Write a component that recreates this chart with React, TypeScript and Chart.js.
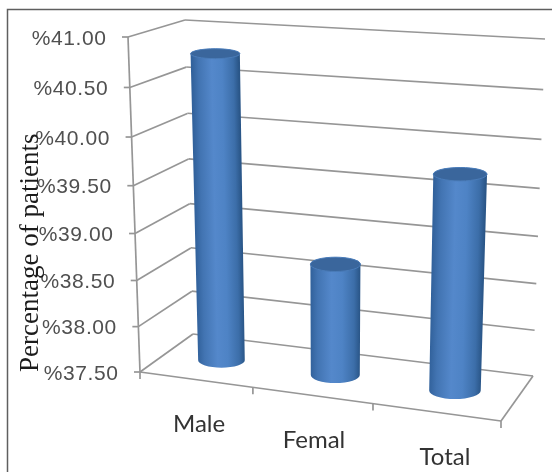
import { useEffect, useRef } from "react";
import { Chart, registerables } from "chart.js";

Chart.register(...registerables);

const categories = ["Male", "Femal", "Total"];
const patientShare = [40.78, 38.7, 39.75];
const axisMin = 37.5;
const axisMax = 41;
const axisStep = 0.5;
const axisTitle = "Percentage of patients";

type Pt = [number, number];

// Projects a unit square onto a quadrilateral, giving the walls their perspective.
function quadMap(p00: Pt, p10: Pt, p11: Pt, p01: Pt) {
  const [x0, y0] = p00, [x1, y1] = p10, [x2, y2] = p11, [x3, y3] = p01;
  const dx1 = x1 - x2, dx2 = x3 - x2, sx = x0 - x1 + x2 - x3;
  const dy1 = y1 - y2, dy2 = y3 - y2, sy = y0 - y1 + y2 - y3;
  const det = dx1 * dy2 - dx2 * dy1;
  const g = (sx * dy2 - dx2 * sy) / det;
  const h = (dx1 * sy - sx * dy1) / det;
  const a = x1 - x0 + g * x1, b = x3 - x0 + h * x3;
  const d = y1 - y0 + g * y1, e = y3 - y0 + h * y3;
  return (u: number, v: number): Pt => {
    const w = g * u + h * v + 1;
    return [(a * u + b * v + x0) / w, (d * u + e * v + y0) / w];
  };
}

const mix = (p: Pt, q: Pt, t: number): Pt => [p[0] + (q[0] - p[0]) * t, p[1] + (q[1] - p[1]) * t];

// Corners of the 3D box: front/back, left/right, bottom/top.
const FLB: Pt = [140, 372];
const FRB: Pt = [501, 421];
const FLT: Pt = [128, 37];
const FRT: Pt = [514, 61];
const BLB: Pt = [193, 334];
const BRB: Pt = [533, 376];
const BLT: Pt = [185, 20];
const BRT: Pt = [545, 39];

const backWall = quadMap(BLB, BRB, BRT, BLT);
const sideWall = quadMap(FLB, BLB, BLT, FLT);
const floor = quadMap(FLB, FRB, BRB, BLB);
const BAR_DEPTH = 0.5;
const barPlane = quadMap(
  mix(FLB, BLB, BAR_DEPTH),
  mix(FRB, BRB, BAR_DEPTH),
  mix(FRT, BRT, BAR_DEPTH),
  mix(FLT, BLT, BAR_DEPTH),
);

// Horizontal offset of each category label from its point on the floor edge.
const LABEL_SHIFT = [3.5, 2, 9];

function segment(ctx: CanvasRenderingContext2D, p: Pt, q: Pt) {
  ctx.beginPath();
  ctx.moveTo(p[0], p[1]);
  ctx.lineTo(q[0], q[1]);
  ctx.stroke();
}

const perspectiveBox = {
  id: "perspectiveBox",
  beforeDatasetsDraw(chart: any) {
    const { ctx, scales } = chart;
    const yScale = scales.y;
    const area = chart.chartArea;
    ctx.save();

    // Page frame
    ctx.strokeStyle = "#5f5f5f";
    ctx.lineWidth = 1.5;
    ctx.beginPath();
    ctx.moveTo(7.5, 472);
    ctx.lineTo(7.5, 9.5);
    ctx.lineTo(552, 9.5);
    ctx.stroke();

    ctx.strokeStyle = "#969696";
    ctx.lineWidth = 1.7;

    // Value gridlines across the side and back walls, with their tick labels
    ctx.font = "21px 'Liberation Sans', Arial, sans-serif";
    ctx.letterSpacing = "0.6px";
    ctx.textAlign = "right";
    ctx.textBaseline = "middle";
    ctx.fillStyle = "#505050";
    for (const tick of yScale.ticks) {
      const t = (area.bottom - yScale.getPixelForValue(tick.value)) / (area.bottom - area.top);
      const front = sideWall(0, t);
      segment(ctx, [front[0] - 6, front[1]], front);
      segment(ctx, front, sideWall(1, t));
      segment(ctx, backWall(0, t), backWall(1, t));
      ctx.fillText(tick.label, front[0] - 21.5, front[1] + 2);
    }
    ctx.letterSpacing = "0px";

    // Front vertical axis and floor edges
    segment(ctx, FLT, FLB);
    segment(ctx, FLB, FRB);
    segment(ctx, FRB, BRB);

    // Category ticks along the front floor edge
    const nCat = categories.length;
    for (let i = 0; i <= nCat; i++) {
      const p = floor(i / nCat, 0);
      segment(ctx, p, [p[0], p[1] + 7]);
    }

    // Axis title
    ctx.save();
    ctx.translate(38, 372);
    ctx.rotate(-Math.PI / 2);
    ctx.font = "27px 'Liberation Serif', 'Times New Roman', serif";
    ctx.textAlign = "left";
    ctx.textBaseline = "alphabetic";
    ctx.fillStyle = "#1c1c1c";
    ctx.fillText(axisTitle, 0, 0);
    ctx.restore();

    ctx.restore();
  },
  afterDatasetsDraw(chart: any) {
    const { ctx, scales } = chart;
    const area = chart.chartArea;
    const w = area.right - area.left;
    const h = area.bottom - area.top;
    const bars = chart.getDatasetMeta(0).data;

    bars.forEach((bar: any) => {
      const u = (bar.x - area.left) / w;
      const halfU = bar.width / 2 / w;
      const t = (area.bottom - bar.y) / h;
      const baseL = barPlane(u - halfU, 0);
      const baseR = barPlane(u + halfU, 0);
      const topL = barPlane(u - halfU, t);
      const topR = barPlane(u + halfU, t);
      const baseC = mix(baseL, baseR, 0.5);
      const topC = mix(topL, topR, 0.5);
      const baseHW = (baseR[0] - baseL[0]) / 2;
      const topHW = (topR[0] - topL[0]) / 2;
      const baseRY = baseHW * (0.18 + 0.0004 * baseC[1]);
      const topRY = topHW * (0.18 + 0.0004 * topC[1]);

      ctx.save();
      // Body: a flat base arc joined to the top rim
      ctx.beginPath();
      ctx.moveTo(topL[0], topC[1]);
      ctx.lineTo(baseL[0], baseC[1]);
      ctx.ellipse(baseC[0], baseC[1], baseHW, baseRY, 0, Math.PI, 0, true);
      ctx.lineTo(topR[0], topC[1]);
      ctx.ellipse(topC[0], topC[1], topHW, topRY, 0, 0, Math.PI, true);
      ctx.closePath();
      ctx.clip();
      const k = (topC[0] - baseC[0]) / (topC[1] - baseC[1]);
      ctx.transform(1, 0, k, 1, -k * baseC[1], 0);
      const grad = ctx.createLinearGradient(baseC[0] - baseHW, 0, baseC[0] + baseHW, 0);
      grad.addColorStop(0, "#32629c");
      grad.addColorStop(0.14, "#4274b2");
      grad.addColorStop(0.42, "#5488cb");
      grad.addColorStop(0.64, "#4e83c5");
      grad.addColorStop(0.88, "#3c6ea9");
      grad.addColorStop(1, "#2a5688");
      ctx.fillStyle = grad;
      ctx.fillRect(baseC[0] - 80, topC[1] - 40, 160, baseC[1] - topC[1] + 80);
      ctx.restore();

      // Cap
      ctx.save();
      ctx.beginPath();
      ctx.ellipse(topC[0], topC[1], topHW, topRY, 0, 0, Math.PI * 2);
      ctx.fillStyle = "#3a669c";
      ctx.fill();
      ctx.strokeStyle = "#4a7cb9";
      ctx.lineWidth = 1;
      ctx.stroke();
      ctx.restore();
    });

    // Category labels follow the front floor edge
    ctx.save();
    ctx.font = "24px Lato, 'Open Sans', sans-serif";
    ctx.textAlign = "center";
    ctx.textBaseline = "middle";
    ctx.fillStyle = "#333333";
    const xScale = scales.x;
    xScale.getLabels().forEach((label: string, i: number) => {
      const u = (xScale.getPixelForValue(i) - area.left) / w;
      const p = floor(u, 0);
      ctx.fillText(label, p[0] + LABEL_SHIFT[i], p[1] + 45);
    });
    ctx.restore();
  },
};

export default function App() {
  const ref = useRef<HTMLCanvasElement>(null);
  useEffect(() => {
    const chart = new Chart(ref.current as HTMLCanvasElement, {
      type: "bar",
      data: {
        labels: categories,
        datasets: [
          {
            label: axisTitle,
            data: patientShare,
            backgroundColor: "rgba(0,0,0,0)",
            barPercentage: 0.42,
            categoryPercentage: 1,
          },
        ],
      },
      options: {
        animation: false,
        responsive: false,
        layout: { padding: { left: 140, top: 37, right: 51, bottom: 100 } },
        plugins: { legend: { display: false }, tooltip: { enabled: false } },
        scales: {
          x: { display: false },
          y: {
            display: false,
            min: axisMin,
            max: axisMax,
            ticks: {
              stepSize: axisStep,
              callback: (v: any) => "%" + Number(v).toFixed(2),
            },
          },
        },
      },
      plugins: [perspectiveBox],
    } as any);
    return () => chart.destroy();
  }, []);
  return (
    <div style={{ position: "fixed", left: 0, top: 0, width: 552, height: 472, background: "#fff" }}>
      <canvas ref={ref} width={552} height={472} style={{ display: "block" }} />
    </div>
  );
}
